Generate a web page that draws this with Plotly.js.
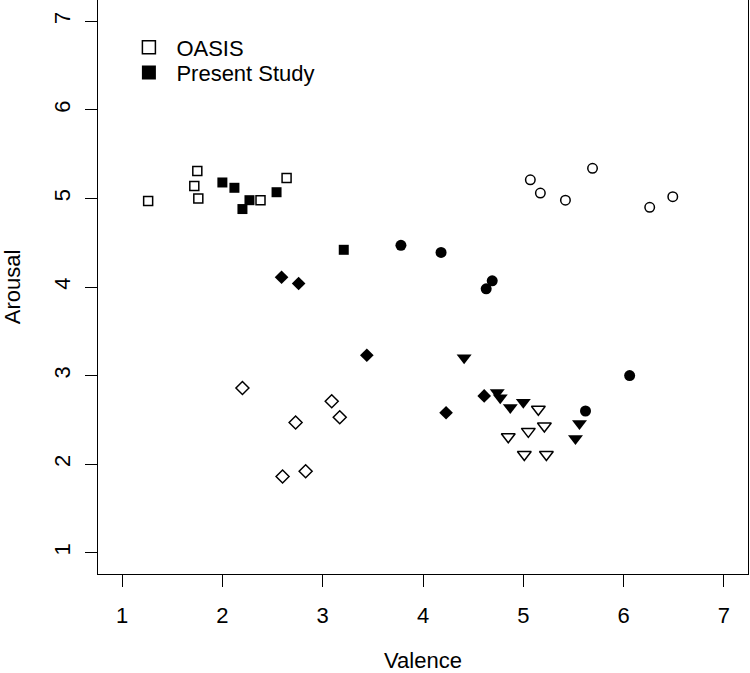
<!DOCTYPE html>
<html>
<head>
<meta charset="utf-8">
<script src="https://cdn.plot.ly/plotly-3.0.1.min.js"></script>
<style>html,body{margin:0;padding:0;background:#fff;}#chart{width:750px;height:673px;}</style>
</head>
<body>
<div id="chart"></div>
<script>
// ---- data (Valence, Arousal) ----
const legendLabels = ["OASIS", "Present Study"];
const xTicks = [1, 2, 3, 4, 5, 6, 7];
const yTicks = [1, 2, 3, 4, 5, 6, 7];

const oasisSquareX = [1.26, 1.75, 1.72, 1.76, 2.38, 2.64];
const oasisSquareY = [4.97, 5.31, 5.14, 5.00, 4.98, 5.23];
const studySquareX = [2.00, 2.12, 2.27, 2.20, 2.54, 3.21];
const studySquareY = [5.18, 5.12, 4.98, 4.88, 5.07, 4.42];

const oasisCircleX = [5.07, 5.17, 5.42, 5.69, 6.26, 6.49];
const oasisCircleY = [5.21, 5.06, 4.98, 5.34, 4.90, 5.02];
const studyCircleX = [3.78, 4.18, 4.63, 4.69, 5.62, 6.06];
const studyCircleY = [4.47, 4.39, 3.98, 4.07, 2.60, 3.00];

const oasisDiamondX = [2.20, 3.09, 3.17, 2.73, 2.60, 2.83];
const oasisDiamondY = [2.86, 2.71, 2.53, 2.47, 1.86, 1.92];
const studyDiamondX = [2.59, 2.76, 3.44, 4.23, 4.61];
const studyDiamondY = [4.11, 4.04, 3.23, 2.58, 2.77];

const oasisTriangleX = [5.15, 5.21, 5.05, 4.85, 5.01, 5.23];
const oasisTriangleY = [2.62, 2.43, 2.37, 2.31, 2.11, 2.11];
const studyTriangleX = [4.41, 4.74, 4.77, 4.87, 5.00, 5.56, 5.52];
const studyTriangleY = [3.20, 2.81, 2.75, 2.64, 2.70, 2.46, 2.29];

// ---- styling ----
const FONT = "Liberation Sans, Arial, sans-serif";
const FS = 22;
function openTrace(x, y, symbol, size) {
  return {x: x, y: y, type: "scatter", mode: "markers", showlegend: false, hoverinfo: "skip",
    marker: {symbol: symbol, size: size, color: "#ffffff", line: {color: "#000000", width: 1.5}}};
}
function filledTrace(x, y, symbol, size) {
  return {x: x, y: y, type: "scatter", mode: "markers", showlegend: false, hoverinfo: "skip",
    marker: {symbol: symbol, size: size, color: "#000000", line: {color: "#000000", width: 0}}};
}

const data = [
  openTrace(oasisSquareX, oasisSquareY, "square", 9),
  openTrace(oasisCircleX, oasisCircleY, "circle", 9.5),
  openTrace(oasisDiamondX, oasisDiamondY, "diamond", 10),
  openTrace(oasisTriangleX, oasisTriangleY, "triangle-down", 12),
  filledTrace(studySquareX, studySquareY, "square", 10),
  filledTrace(studyCircleX, studyCircleY, "circle", 11),
  filledTrace(studyDiamondX, studyDiamondY, "diamond", 10.5),
  filledTrace(studyTriangleX, studyTriangleY, "triangle-down", 13),
  // legend entries
  {x: [null], y: [null], type: "scatter", mode: "markers", name: legendLabels[0], showlegend: true, legend: "legend",
    marker: {symbol: "square", size: 13, color: "#ffffff", line: {color: "#000000", width: 1.5}}},
  {x: [null], y: [null], type: "scatter", mode: "markers", name: legendLabels[1], showlegend: true, legend: "legend2",
    marker: {symbol: "square", size: 14, color: "#000000", line: {width: 0}}}
];

const axisCommon = {
  range: [0.76, 7.24], autorange: false,
  showgrid: false, zeroline: false,
  showline: true, mirror: true, linecolor: "#000000", linewidth: 1,
  ticks: "outside", ticklen: 12, tickwidth: 1, tickcolor: "#000000",
  tickfont: {family: FONT, size: FS, color: "#000000"},
  tickmode: "array"
};

const legendCommon = {
  xanchor: "left", yanchor: "top",
  bgcolor: "rgba(0,0,0,0)", borderwidth: 0, itemwidth: 45,
  font: {family: FONT, size: FS, color: "#000000"},
  itemclick: false, itemdoubleclick: false
};

const layout = {
  width: 750, height: 673,
  margin: {l: 98, r: 2, t: 0, b: 99},
  paper_bgcolor: "#ffffff", plot_bgcolor: "#ffffff",
  font: {family: FONT, size: FS, color: "#000000"},
  xaxis: Object.assign({}, axisCommon, {
    tickvals: xTicks, ticktext: xTicks.map(String), ticklabelstandoff: 10,
    title: {text: "Valence", font: {family: FONT, size: FS, color: "#000000"}, standoff: 37}
  }),
  yaxis: Object.assign({}, axisCommon, {
    tickvals: yTicks, ticktext: yTicks.map(String), tickangle: -90, ticklabelstandoff: 6,
    title: {text: "Arousal", font: {family: FONT, size: FS, color: "#000000"}, standoff: 26}
  }),
  showlegend: true,
  legend: Object.assign({}, legendCommon, {x: 0.036, y: 0.954}),
  legend2: Object.assign({}, legendCommon, {x: 0.036, y: 0.910})
};

Plotly.newPlot("chart", data, layout, {displayModeBar: false, staticPlot: true});
</script>
</body>
</html>
